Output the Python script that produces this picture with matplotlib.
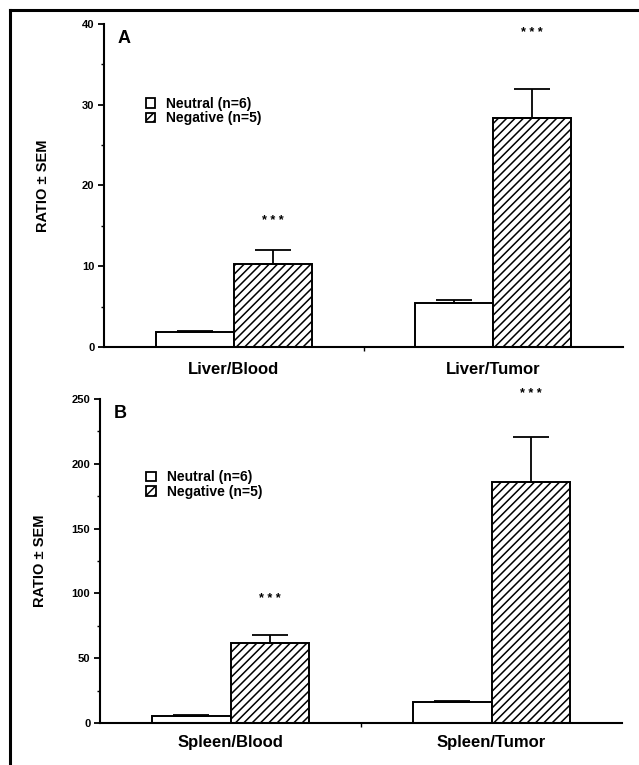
import matplotlib
matplotlib.use('Agg')
import matplotlib.pyplot as plt
from matplotlib.patches import Patch
from matplotlib.lines import Line2D
import numpy as np

plt.rcParams['font.family'] = ['Liberation Sans', 'DejaVu Sans']
plt.rcParams['font.weight'] = 'bold'
plt.rcParams['hatch.linewidth'] = 1.1

# Panel A data
cats_a = ['Liver/Blood', 'Liver/Tumor']
neutral_a = [1.8, 5.4]
neutral_a_err = [0.12, 0.4]
negative_a = [10.3, 28.3]
negative_a_err = [1.75, 3.7]
stars_a = [15.6, 38.9]

# Panel B data
cats_b = ['Spleen/Blood', 'Spleen/Tumor']
neutral_b = [5.6, 15.9]
neutral_b_err = [0.4, 0.8]
negative_b = [61.7, 185.6]
negative_b_err = [5.9, 34.8]
stars_b = [95.9, 254]

labels = ['Neutral (n=6)', 'Negative (n=5)']

fig = plt.figure(figsize=(6.39, 7.65), dpi=100)

# border lines (left and top)
fig.add_artist(Line2D([10/639, 10/639], [0, 1 - 10/765], color='black', lw=2.2))
fig.add_artist(Line2D([10/639, 1], [1 - 10/765, 1 - 10/765], color='black', lw=2.2))

ax_a = fig.add_axes([104/639, 1 - 347/765, 519/639, 323/765])
ax_b = fig.add_axes([100/639, 1 - 723/765, 522/639, 324/765])


def draw(ax, cats, neu, neu_err, neg, neg_err, stars, ymax, step, letter, leg_xy, pad, lab_x):
    x = np.arange(len(cats))
    w = 0.30
    ax.bar(x - w/2, neu, w, color='white', edgecolor='black', lw=1.4, zorder=2)
    ax.bar(x + w/2, neg, w, color='white', edgecolor='black', lw=1.4, hatch='////', zorder=2)
    ax.errorbar(x - w/2, neu, yerr=[np.zeros(len(neu)), neu_err], fmt='none',
                ecolor='black', elinewidth=1.3, capsize=13, capthick=1.3, zorder=3)
    ax.errorbar(x + w/2, neg, yerr=[np.zeros(len(neg)), neg_err], fmt='none',
                ecolor='black', elinewidth=1.3, capsize=13, capthick=1.3, zorder=3)
    for xi, s in zip(x, stars):
        ax.text(xi + w/2, s, '* * *', ha='center', va='center', fontsize=9, clip_on=False)

    ax.set_xlim(-0.5, 1.5)
    ax.set_ylim(0, ymax)
    ax.set_yticks(np.arange(0, ymax + 1, step))
    ax.set_yticks(np.arange(step/2, ymax, step), minor=True)
    ax.set_xticks(x)
    ax.set_xticklabels(cats, fontsize=12, fontweight='bold')
    ax.set_xticks([0.5], minor=True)
    ax.tick_params(axis='x', which='major', length=0, pad=pad)
    ax.tick_params(axis='x', which='minor', length=3, width=1)
    ax.tick_params(axis='y', which='major', length=4, width=1.3, pad=3, labelsize=8)
    ax.tick_params(axis='y', which='minor', length=2, width=1)
    for t in ax.get_yticklabels():
        t.set_fontweight('bold')
    for sp in ['top', 'right']:
        ax.spines[sp].set_visible(False)
    for sp in ['left', 'bottom']:
        ax.spines[sp].set_linewidth(1.5)

    ax.set_ylabel('RATIO ± SEM', fontsize=10.5, fontweight='bold')
    ax.yaxis.set_label_coords(lab_x, 0.5)
    ax.text(0.027, 0.955, letter, transform=ax.transAxes, fontsize=13,
            fontweight='bold', ha='left', va='center')

    handles = [Patch(facecolor='white', edgecolor='black', lw=1.3),
               Patch(facecolor='white', edgecolor='black', lw=1.3, hatch='////')]
    ax.legend(handles, labels, loc='upper left', bbox_to_anchor=leg_xy,
              frameon=False, handlelength=0.7, handleheight=0.7,
              handletextpad=0.8, labelspacing=0.05, borderpad=0, borderaxespad=0,
              prop={'weight': 'bold', 'size': 10})


draw(ax_a, cats_a, neutral_a, neutral_a_err, negative_a, negative_a_err, stars_a,
     40, 10, 'A', (0.08, 0.775), 10.5, -0.104)
draw(ax_b, cats_b, neutral_b, neutral_b_err, negative_b, negative_b_err, stars_b,
     250, 50, 'B', (0.088, 0.78), 8.5, -0.102)

fig.savefig('out.png', dpi=100)
